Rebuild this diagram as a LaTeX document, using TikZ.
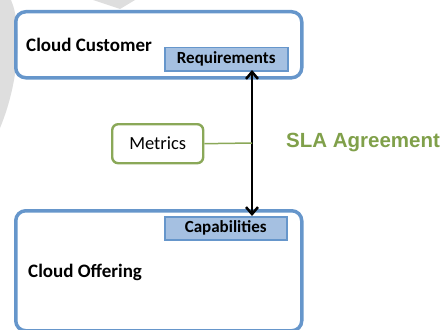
\documentclass[tikz,border=0pt]{standalone}
\usepackage{fontspec}
\setmainfont{Carlito}
\newfontfamily\slafont{Liberation Sans}
\usetikzlibrary{arrows.meta}
\definecolor{bluebd}{RGB}{102,150,203}
\definecolor{bluefill}{RGB}{165,192,225}
\definecolor{greenbd}{RGB}{138,168,88}
\definecolor{greentxt}{RGB}{128,160,74}
\definecolor{wmgray}{RGB}{222,222,222}
\tikzset{
  bigbox/.style={draw=bluebd, line width=3.5pt, rounded corners=10pt},
  tagbox/.style={draw=bluebd, fill=bluefill, line width=1.5pt, inner sep=0pt, font=\bfseries\fontsize{17}{19}\selectfont},
  metricbox/.style={draw=greenbd, line width=2.4pt, rounded corners=6pt, font=\fontsize{18.5}{20}\selectfont},
  title/.style={font=\bfseries\fontsize{19}{21}\selectfont, anchor=west, inner sep=0pt},
}
\begin{document}
\begin{tikzpicture}[x=1pt,y=-1pt]
\useasboundingbox (0,0) rectangle (444,329);
% watermark remnants
\fill[wmgray] (0,0) -- (11,0) .. controls (22,25) and (20,80) .. (0,128) -- cycle;
\fill[wmgray] (93,0) -- (135,0) -- (120,9) -- cycle;
% boxes
\node[bigbox, minimum width=286pt, minimum height=66pt, anchor=north west] (cust) at (14,10) {};
\node[bigbox, minimum width=286pt, minimum height=120pt, anchor=north west] (offer) at (14,209) {};
\node[title] (custtxt) at (26,45) {Cloud Customer};
\node[title] (offtxt) at (28,272) {Cloud Offering};
\node[tagbox, minimum width=123pt, minimum height=23pt, anchor=north west] (req) at (164,47) {Requirements};
\node[tagbox, minimum width=122pt, minimum height=23pt, anchor=north west] (cap) at (164,216) {Capabilities};
\node[metricbox, minimum width=91pt, minimum height=39pt, anchor=north west] (met) at (111,123) {Metrics};
\node[font=\slafont\bfseries\fontsize{20.5}{23}\selectfont, text=greentxt, anchor=west, inner sep=0pt] (sla) at (286,143) {SLA Agreement};
% arrow
\coordinate (top) at (252,70);
\coordinate (bot) at (252,216);
\coordinate (mid) at (252,143);
\draw[line width=2.5pt, {Straight Barb[length=7pt,width=12pt,line width=2.5pt]}-{Straight Barb[length=7pt,width=12pt,line width=2.5pt]}] (top) -- (bot);
\draw[greenbd, line width=1.5pt] (met.east) -- (mid);
\end{tikzpicture}
\end{document}
